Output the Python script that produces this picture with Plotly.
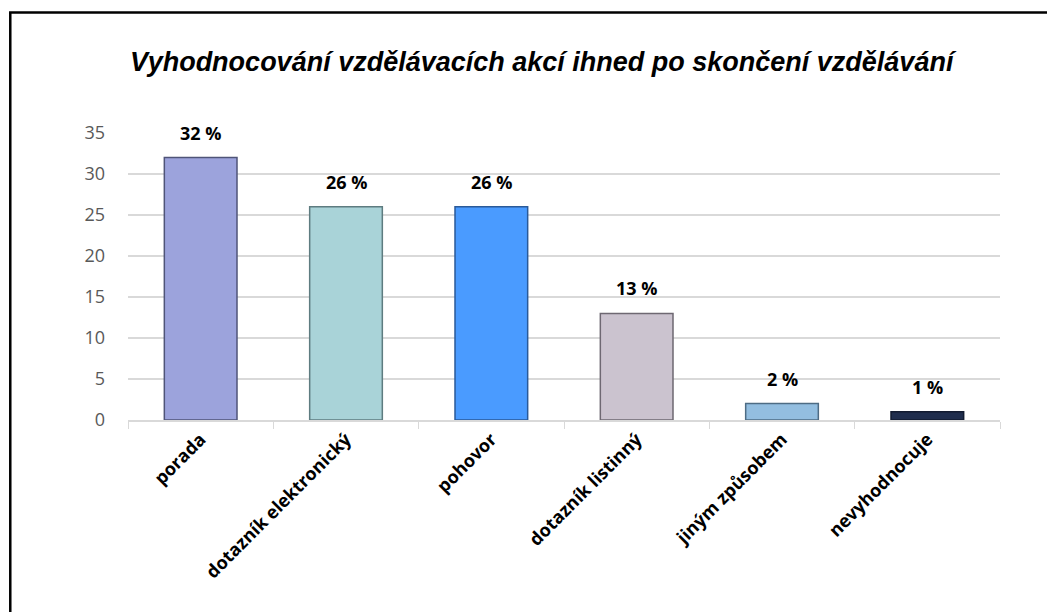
import plotly.graph_objects as go

categories = ["porada", "dotazník elektronický", "pohovor", "dotazník listinný", "jiným způsobem", "nevyhodnocuje"]
values = [32, 26, 26, 13, 2, 1]
labels = ["32 %", "26 %", "26 %", "13 %", "2 %", "1 %"]
colors = ["#9CA3DC", "#A9D3D8", "#4A9BFF", "#CBC3CF", "#93BEE0", "#1F2D4D"]
edge_colors = ["#4F5478", "#5E7C80", "#2A5A99", "#6E6872", "#4E6C84", "#121B30"]
y_ticks = [0, 5, 10, 15, 20, 25, 30, 35]
title = "Vyhodnocování vzdělávacích akcí ihned po skončení vzdělávání"

fig = go.Figure()
fig.add_trace(go.Bar(
    x=categories, y=values,
    marker=dict(color=colors, line=dict(color=edge_colors, width=1.5)),
    width=0.5,
    hoverinfo="x+y",
))

for c, v, t in zip(categories, values, labels):
    fig.add_annotation(x=c, y=v, text="<b>" + t + "</b>", showarrow=False,
                       yanchor="bottom", yshift=11,
                       font=dict(family="Open Sans, Liberation Sans, sans-serif", size=18, color="#000000"))

fig.update_layout(
    width=1055, height=612,
    margin=dict(l=120, r=63, t=125, b=200),
    paper_bgcolor="white", plot_bgcolor="white",
    showlegend=False,
    title=dict(text="<b><i>" + title + "</i></b>", x=0.4745, xref="paper", xanchor="center",
               y=0.912, yanchor="middle",
               font=dict(family="Liberation Sans, sans-serif", size=27, color="#000000")),
    xaxis=dict(
        tickangle=-45, tickson="boundaries", ticks="outside", ticklen=7, tickcolor="#D9D9D9",
        showline=True, linecolor="#D9D9D9", linewidth=1.5, showgrid=False,
        tickfont=dict(family="Open Sans, Liberation Sans, sans-serif", size=18, color="#000000", weight="bold"),
    ),
    yaxis=dict(
        range=[0, 35], tickvals=y_ticks, showgrid=True, gridcolor="#D9D9D9", gridwidth=1.5,
        zeroline=False, showline=False, ticks="", ticklabelstandoff=22,
        tickfont=dict(family="Open Sans, Liberation Sans, sans-serif", size=18, color="#595959"),
    ),
    shapes=[dict(type="rect", xref="paper", yref="paper",
                 x0=-0.135, x1=1.2, y0=-1.0, y1=1.42,
                 line=dict(color="#000000", width=2.5), fillcolor="rgba(0,0,0,0)", layer="below")],
)

fig.write_html("out.html")
